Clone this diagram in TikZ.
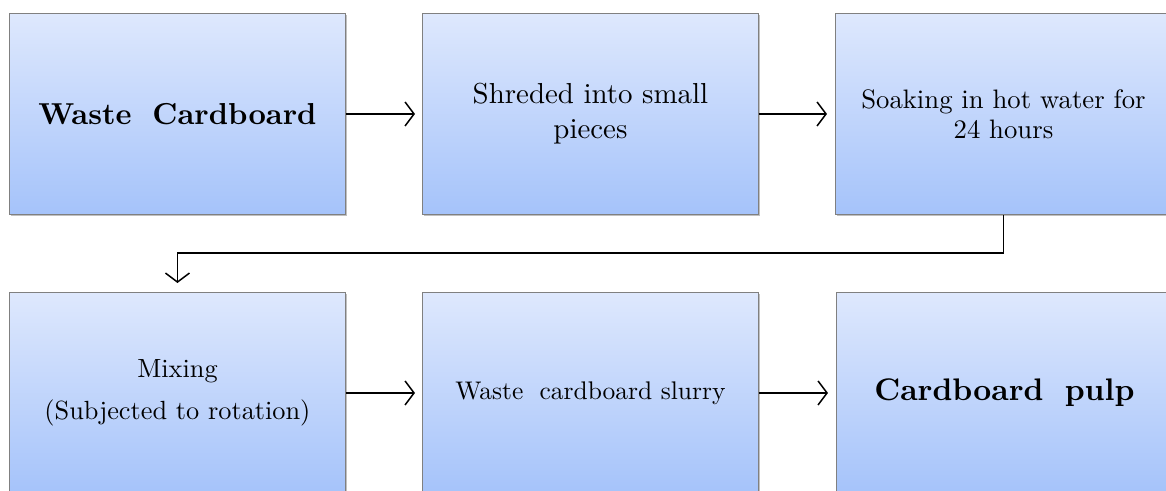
\documentclass[tikz,border=0pt]{standalone}
\usepackage{fontspec}
\setmainfont{lmroman10-regular.otf}[BoldFont=lmroman10-bold.otf]
\usetikzlibrary{arrows.meta,shadows}
\definecolor{boxtop}{HTML}{DEE8FD}
\definecolor{boxbot}{HTML}{A5C3FA}
\definecolor{boxline}{HTML}{808080}
\tikzset{
  stepbox/.style={draw=boxline, line width=0.9pt, top color=boxtop, bottom color=boxbot,
    minimum width=336pt, minimum height=201pt, inner sep=0pt, anchor=north west,
    align=center, text=black,
    drop shadow={shadow xshift=1.6pt, shadow yshift=-1.6pt, opacity=0.35, fill=black!70}},
  flow/.style={line width=1.5pt, -{Straight Barb[length=9pt,width=24pt,line width=1.5pt]}}
}
\begin{document}
\begin{tikzpicture}[x=1pt,y=-1pt]
\useasboundingbox (0,0) rectangle (1166,490);
\fill[white] (0,0) rectangle (1166,490);
\begin{scope}
\clip (0,0) rectangle (1166,490);
\node[stepbox, font=\fontsize{30.3}{34}\selectfont\bfseries] (b1) at (9,13) {Waste\hspace{0.3em} Cardboard};
\node[stepbox, font=\fontsize{28.9}{35}\selectfont] (b2) at (422,13) {Shreded into small\\pieces};
\node[stepbox, font=\fontsize{26.7}{30}\selectfont] (b3) at (835,13) {Soaking in hot water for\\24 hours};
\node[stepbox, font=\fontsize{26.3}{42}\selectfont] (b4) at (9,292) {Mixing\\(Subjected to rotation)};
\node[stepbox, font=\fontsize{25.5}{32}\selectfont] (b5) at (422,292) {Waste\hspace{0.3em} cardboard slurry};
\node[stepbox, font=\fontsize{31.2}{34}\selectfont\bfseries] (b6) at (836,292) {Cardboard\hspace{0.3em} pulp};
\coordinate (mid) at (590,253);
\draw[flow, shorten >=7pt] (b1.east) -- (b2.west);
\draw[flow, shorten >=8pt] (b2.east) -- (b3.west);
\draw[flow, shorten >=9pt] (b3.south) |- (mid) -| (b4.north);
\draw[flow, shorten >=7pt] (b4.east) -- (b5.west);
\draw[flow, shorten >=8pt] (b5.east) -- (b6.west);
\end{scope}
\end{tikzpicture}
\end{document}
